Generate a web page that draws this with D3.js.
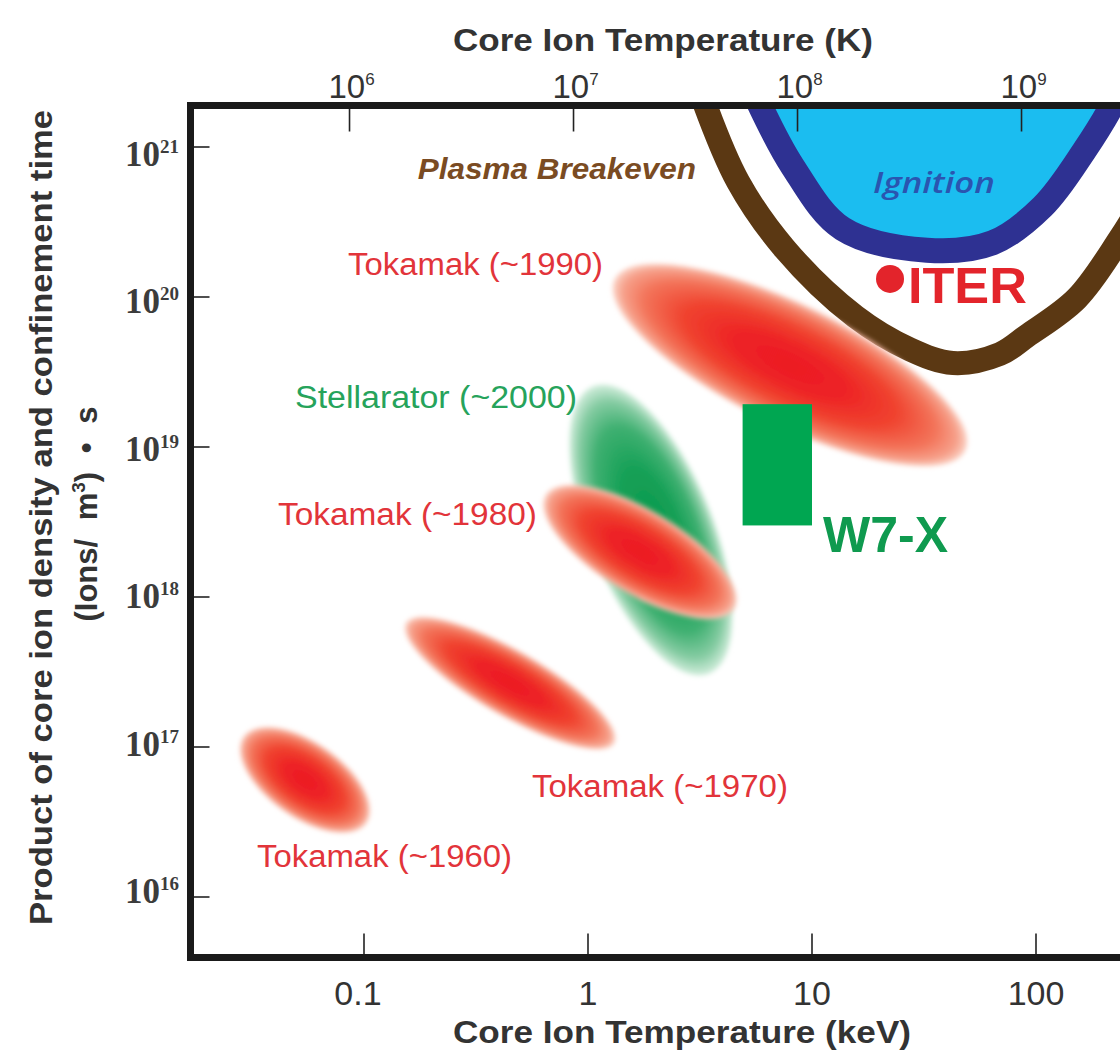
<!DOCTYPE html>
<html><head><meta charset="utf-8">
<script src="https://cdn.jsdelivr.net/npm/d3@7"></script>
<style>body{margin:0;background:#fff} svg{display:block}</style>
</head><body>
<script>
// ---------- data ----------
const KEV_TO_K = 1.16045e7; // kelvin per keV
const keVTicks = [0.1, 1, 10, 100];
const keVTickLabels = ["0.1", "1", "10", "100"];
const kelvinTicks = [1e6, 1e7, 1e8, 1e9];
const kelvinExponents = ["6", "7", "8", "9"];
const nTauTicks = [1e16, 1e17, 1e18, 1e19, 1e20, 1e21];
const nTauExponents = ["16", "17", "18", "19", "20", "21"];

// Plasma breakeven curve (keV, ions/m^3 * s)
const breakevenT = [3.26, 4.67, 7.57, 15.6, 27.4, 42.6, 69, 91, 152, 237, 323];
const breakevenN = [2.09e21, 5.89e20, 2.09e20, 7.41e19, 4.47e19, 3.63e19, 4.17e19, 5.5e19, 9.77e19, 2.45e20, 5.25e20];

// Ignition curve
const ignitionT = [5.68, 8.2, 13.7, 32.6, 64, 107, 165, 225, 291];
const ignitionN = [2.09e21, 7.41e20, 2.85e20, 2.05e20, 2.3e20, 4.0e20, 9.55e20, 2.06e21, 5.17e21];

// Experiment regions: major-axis end points (keV, n·tau) and minor/major ratio
const regionNames = ["Tokamak (~1960)", "Tokamak (~1970)", "Stellarator (~2000)", "Tokamak (~1980)", "Tokamak (~1990)"];
const regionT1 = [0.029, 0.154, 1.052, 0.647, 1.316];
const regionN1 = [1.17e17, 6.7e17, 2.54e19, 4.77e18, 1.31e20];
const regionT2 = [0.1025, 1.31, 3.47, 4.5, 48.3];
const regionN2 = [3.11e16, 1.06e17, 3.08e17, 8.36e17, 9.48e18];
const regionAspect = [0.5, 0.27, 0.4, 0.38, 0.31];
const regionKind = ["tokamak", "tokamak", "stellarator", "tokamak", "tokamak"];

// Region labels: start anchor (keV, n·tau)
const labelT = [0.0333, 0.562, 0.0492, 0.0413, 0.0849];
const labelN = [1.58e16, 4.64e16, 1.82e19, 3.02e18, 1.40e20];

// ITER point
const iterT = 22.3, iterN = 1.32e20;
// W7-X range
const w7xT = [4.9, 10], w7xN = [3.0e18, 1.93e19];

// ---------- layout ----------
const W = 1120, H = 1051;
const frame = {left: 190.5, top: 105.5, right: 1140, bottom: 957.5};

const x = d3.scaleLog().domain([0.1, 100]).range([364, 1036]);
const xK = d3.scaleLog().domain([0.1 * KEV_TO_K, 100 * KEV_TO_K]).range([364, 1036]);
const y = d3.scaleLog().domain([1e16, 1e21]).range([897, 147]);
const yLab = d3.scaleLog().domain([1e16, 1e21]).range([892, 155]);

const svg = d3.select("body").append("svg").attr("width", W).attr("height", H);
const defs = svg.append("defs");

defs.append("clipPath").attr("id", "plotClip").append("rect")
  .attr("x", frame.left).attr("y", frame.top)
  .attr("width", frame.right - frame.left).attr("height", frame.bottom - frame.top);

const redGrad = defs.append("radialGradient").attr("id", "redGrad");
[[0, "#ec1b24"], [0.3, "#ed2225"], [0.6, "#f0432f"], [0.82, "#f3745a"], [0.94, "#f6a08a"], [1, "#fbd3c6"]]
  .forEach(([o, c]) => redGrad.append("stop").attr("offset", o).attr("stop-color", c));
const greenGrad = defs.append("radialGradient").attr("id", "greenGrad").attr("fy", "0.45");
[[0, "#0b9a4d"], [0.4, "#15a056"], [0.7, "#3fb071"], [0.88, "#86cca3"], [1, "#d3eedd"]]
  .forEach(([o, c]) => greenGrad.append("stop").attr("offset", o).attr("stop-color", c));

const blur = defs.append("filter").attr("id", "soft")
  .attr("x", "-20%").attr("y", "-20%").attr("width", "140%").attr("height", "140%");
blur.append("feGaussianBlur").attr("stdDeviation", 2.5);

const plot = svg.append("g").attr("clip-path", "url(#plotClip)");

// Ignition region
const line = d3.line().x(d => x(d[0])).y(d => y(d[1])).curve(d3.curveCatmullRom.alpha(0.5));
const ignPts = ignitionT.map((t, i) => [t, ignitionN[i]]);
const bePts = breakevenT.map((t, i) => [t, breakevenN[i]]);

plot.append("path").attr("d", line(ignPts) + "Z").attr("fill", "#1bbdf0");
plot.append("path").attr("d", line(ignPts)).attr("fill", "none")
  .attr("stroke", "#2e3192").attr("stroke-width", 25);
plot.append("path").attr("d", line(bePts)).attr("fill", "none")
  .attr("stroke", "#5b3813").attr("stroke-width", 24);

// experiment regions
regionNames.forEach((name, i) => {
  const x1 = x(regionT1[i]), y1 = y(regionN1[i]), x2 = x(regionT2[i]), y2 = y(regionN2[i]);
  const cx = (x1 + x2) / 2, cy = (y1 + y2) / 2;
  const a = Math.hypot(x2 - x1, y2 - y1) / 2;
  const ang = Math.atan2(y2 - y1, x2 - x1) * 180 / Math.PI;
  plot.append("ellipse").attr("cx", 0).attr("cy", 0).attr("rx", a).attr("ry", a * regionAspect[i])
    .attr("transform", `translate(${cx},${cy}) rotate(${ang})`)
    .attr("fill", regionKind[i] === "tokamak" ? "url(#redGrad)" : "url(#greenGrad)")
    .attr("filter", "url(#soft)");
});

// W7-X
plot.append("rect")
  .attr("x", x(w7xT[0])).attr("y", y(w7xN[1]))
  .attr("width", x(w7xT[1]) - x(w7xT[0])).attr("height", y(w7xN[0]) - y(w7xN[1]))
  .attr("fill", "#00a651");

// ITER
plot.append("circle").attr("cx", x(iterT)).attr("cy", y(iterN)).attr("r", 14).attr("fill", "#e3242b");

// ---------- ticks ----------
const tickG = svg.append("g").attr("stroke", "#222").attr("stroke-width", 1.6);
kelvinTicks.forEach(k => tickG.append("line").attr("x1", xK(k)).attr("x2", xK(k)).attr("y1", frame.top).attr("y2", frame.top + 26));
keVTicks.forEach(t => tickG.append("line").attr("x1", x(t)).attr("x2", x(t)).attr("y1", frame.bottom).attr("y2", frame.bottom - 24));
nTauTicks.forEach(n => tickG.append("line").attr("x1", frame.left).attr("x2", frame.left + 19).attr("y1", y(n)).attr("y2", y(n)));

// frame
svg.append("rect").attr("x", frame.left).attr("y", frame.top)
  .attr("width", frame.right - frame.left).attr("height", frame.bottom - frame.top)
  .attr("fill", "none").attr("stroke", "#1a1a1a").attr("stroke-width", 7);

// ---------- text ----------
const SANS = "'Liberation Sans', Arial, Helvetica, sans-serif";
const SERIF = "'Liberation Serif', 'DejaVu Serif', serif";

// top tick labels
kelvinTicks.forEach((k, i) => {
  const t = svg.append("text").attr("x", xK(k) + 2).attr("y", 98).attr("text-anchor", "middle")
    .attr("font-family", SANS).attr("font-size", 33).attr("fill", "#333");
  t.append("tspan").text("10");
  t.append("tspan").attr("dy", -13).attr("font-size", 17).text(kelvinExponents[i]);
});
// bottom tick labels
keVTicks.forEach((v, i) => {
  svg.append("text").attr("x", x(v) + (i === 0 ? -6 : 0)).attr("y", 1005).attr("text-anchor", "middle")
    .attr("font-family", SANS).attr("font-size", 34).attr("fill", "#333").text(keVTickLabels[i]);
});
// left tick labels
nTauTicks.forEach((n, i) => {
  const t = svg.append("text").attr("x", 179).attr("y", yLab(n) + 11).attr("text-anchor", "end")
    .attr("font-family", SERIF).attr("font-weight", "bold").attr("font-size", 35).attr("fill", "#3c3c3c");
  t.append("tspan").text("10");
  t.append("tspan").attr("dy", -13).attr("font-size", 19).text(nTauExponents[i]);
});

// axis titles
svg.append("text").attr("x", 453).attr("y", 51).attr("textLength", 420).attr("lengthAdjust", "spacingAndGlyphs")
  .attr("font-family", SANS).attr("font-weight", "bold").attr("font-size", 32).attr("fill", "#333")
  .text("Core Ion Temperature (K)");
svg.append("text").attr("x", 453).attr("y", 1043).attr("textLength", 458).attr("lengthAdjust", "spacingAndGlyphs")
  .attr("font-family", SANS).attr("font-weight", "bold").attr("font-size", 32).attr("fill", "#333")
  .text("Core Ion Temperature (keV)");
svg.append("text").attr("transform", "translate(52,925) rotate(-90)")
  .attr("textLength", 815).attr("lengthAdjust", "spacingAndGlyphs")
  .attr("font-family", SANS).attr("font-weight", "bold").attr("font-size", 31).attr("fill", "#333")
  .text("Product of core ion density and confinement time");
const yt2 = svg.append("text").attr("transform", "translate(97,514) rotate(-90)").attr("text-anchor", "middle")
  .attr("font-family", SANS).attr("font-weight", "bold").attr("font-size", 31).attr("fill", "#333")
  .attr("word-spacing", 10);
yt2.append("tspan").text("(Ions/ m");
yt2.append("tspan").attr("dy", -12).attr("font-size", 19).text("3");
yt2.append("tspan").attr("dy", 12).text(")  \u2022  s");

// region labels
const labelWidths = [255, 256, 282, 259, 255];
regionNames.forEach((name, i) => {
  svg.append("text").attr("x", x(labelT[i])).attr("y", y(labelN[i]))
    .attr("textLength", labelWidths[i]).attr("lengthAdjust", "spacingAndGlyphs")
    .attr("font-family", SANS).attr("font-size", 31)
    .attr("fill", regionKind[i] === "tokamak" ? "#e2343a" : "#26a35b")
    .text(name);
});

svg.append("text").attr("x", x(0.174)).attr("y", y(6.12e20))
  .attr("textLength", 278).attr("lengthAdjust", "spacingAndGlyphs")
  .attr("font-family", SANS).attr("font-weight", "bold").attr("font-style", "italic").attr("font-size", 29)
  .attr("fill", "#7a4b22").text("Plasma Breakeven");
svg.append("text").attr("x", x(18.7)).attr("y", y(4.94e20))
  .attr("textLength", 122).attr("lengthAdjust", "spacingAndGlyphs")
  .attr("font-family", "'Open Sans', " + SANS).attr("font-weight", 600).attr("font-style", "italic").attr("font-size", 29)
  .attr("fill", "#2a55b0").text("Ignition");
svg.append("text").attr("x", x(26.8)).attr("y", y(9.12e19))
  .attr("textLength", 119).attr("lengthAdjust", "spacingAndGlyphs")
  .attr("font-family", SANS).attr("font-weight", "bold").attr("font-size", 50)
  .attr("fill", "#e3242b").text("ITER");
svg.append("text").attr("x", x(11.2)).attr("y", y(2.0e18))
  .attr("textLength", 125).attr("lengthAdjust", "spacingAndGlyphs")
  .attr("font-family", SANS).attr("font-weight", "bold").attr("font-size", 50)
  .attr("fill", "#0f9a4f").text("W7-X");
</script>
</body></html>
